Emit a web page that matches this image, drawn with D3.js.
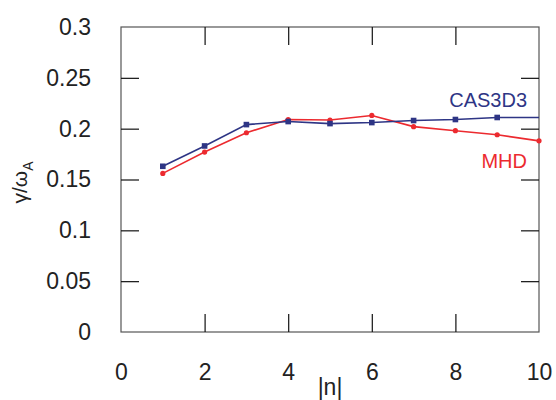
<!DOCTYPE html>
<html>
<head>
<meta charset="utf-8">
<script src="https://cdn.jsdelivr.net/npm/d3@7"></script>
<style>
  body { margin: 0; background: #fff; }
  text { font-family: "Liberation Sans", Arial, sans-serif; }
</style>
</head>
<body>
<svg id="chart"></svg>
<script>
// values
let nValues = [1, 2, 3, 4, 5, 6, 7, 8, 9, 10];
let cas3d3 = [0.163, 0.183, 0.204, 0.207, 0.205, 0.206, 0.208, 0.209, 0.211, 0.211];
let mhd = [0.156, 0.177, 0.196, 0.209, 0.2085, 0.213, 0.202, 0.198, 0.194, 0.188];
let xTicks = [0, 2, 4, 6, 8, 10];
let yTicks = [0, 0.05, 0.1, 0.15, 0.2, 0.25, 0.3];

let margin = {top: 27, right: 17, bottom: 68, left: 121},
    width = 556 - margin.left - margin.right,
    height = 400 - margin.top - margin.bottom;

let svg = d3.select("#chart")
    .attr("width", 556)
    .attr("height", 400)
    .append("g")
    .attr("transform", "translate(" + margin.left + "," + margin.top + ")");

let x = d3.scaleLinear().domain([0, 10]).range([0, width]);
let y = d3.scaleLinear().domain([0, 0.3]).range([height, 0]);

let blue = "#2e3585", red = "#ec2a2f";

//frame
svg.append("rect")
    .attr("width", width).attr("height", height)
    .attr("fill", "none").attr("stroke", "#555").attr("stroke-width", 1.2);

//ticks, inside on all sides
let tl = 18;
function styleAxis(g) {
    g.select(".domain").remove();
    g.selectAll(".tick line").attr("stroke", "#111").attr("stroke-width", 1.2);
    g.selectAll(".tick text")
        .style("font-size", "23px")
        .style("font-family", "Liberation Sans, Arial, sans-serif")
        .attr("fill", "#222");
}
svg.append("g").attr("transform", "translate(0," + height + ")")
    .call(d3.axisBottom(x).tickValues(xTicks).tickSizeInner(-tl).tickSizeOuter(0).tickPadding(14 + tl).tickFormat(d3.format("d")))
    .call(styleAxis)
    .selectAll(".tick").filter(d => d == 0 || d == 10).select("line").remove();
svg.append("g")
    .call(d3.axisTop(x).tickValues(xTicks.filter(d => d > 0 && d < 10)).tickSizeInner(-tl).tickSizeOuter(0).tickFormat(""))
    .call(styleAxis);
svg.append("g")
    .call(d3.axisLeft(y).tickValues(yTicks).tickSizeInner(-tl).tickSizeOuter(0).tickPadding(12 + tl).tickFormat(d3.format("")))
    .call(styleAxis)
    .selectAll(".tick").filter(d => d == 0 || d == 0.3).select("line").remove();
svg.append("g").attr("transform", "translate(" + width + ",0)")
    .call(d3.axisRight(y).tickValues(yTicks.filter(d => d > 0 && d < 0.3)).tickSizeInner(-tl).tickSizeOuter(0).tickFormat(""))
    .call(styleAxis);

//lines
let line = d3.line().x(d => x(d[0])).y(d => y(d[1]));
let blueData = nValues.map((n, i) => [n, cas3d3[i]]);
let redData = nValues.map((n, i) => [n, mhd[i]]);

svg.append("path").datum(redData)
    .attr("fill", "none").attr("stroke", red).attr("stroke-width", 1.6).attr("d", line);
svg.selectAll(".mhd").data(redData).enter().append("circle")
    .attr("cx", d => x(d[0])).attr("cy", d => y(d[1])).attr("r", 2.6).attr("fill", red);

svg.append("path").datum(blueData)
    .attr("fill", "none").attr("stroke", blue).attr("stroke-width", 1.6).attr("d", line);
svg.selectAll(".cas").data(blueData.filter(d => d[0] < 10)).enter().append("rect")
    .attr("x", d => x(d[0]) - 2.8).attr("y", d => y(d[1]) - 2.8)
    .attr("width", 5.6).attr("height", 5.6).attr("fill", blue);

//series labels
svg.append("text").attr("x", width - 12).attr("y", 80)
    .style("text-anchor", "end").style("font-size", "20px").attr("fill", blue)
    .text("CAS3D3");
svg.append("text").attr("x", width - 12).attr("y", 141)
    .style("text-anchor", "end").style("font-size", "20px").attr("fill", red)
    .text("MHD");

//x axis label
svg.append("text").attr("x", x(5)).attr("y", height + 63)
    .style("text-anchor", "middle").style("font-size", "23px").attr("fill", "#222")
    .text("|n|");

//y axis label
let yl = svg.append("text")
    .attr("transform", "translate(" + (-94) + "," + (height / 2 + 3) + ") rotate(-90)")
    .style("text-anchor", "middle").style("font-size", "21px").attr("fill", "#222");
yl.append("tspan").text("γ/ω");
yl.append("tspan").attr("dy", 6).style("font-size", "14px").text("A");
</script>
</body>
</html>
